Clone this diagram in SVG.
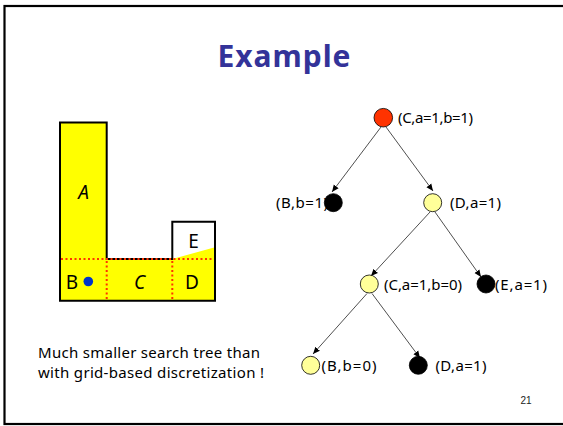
<svg xmlns="http://www.w3.org/2000/svg" width="563" height="426" viewBox="0 0 563 426">
<defs>
<marker id="ah" markerWidth="8" markerHeight="8" refX="7" refY="4" orient="auto" markerUnits="userSpaceOnUse">
<path d="M0,1 L7,4 L0,7 z" fill="#000"/>
</marker>
<style>
.lbl{font-family:"Noto Sans","Liberation Sans",sans-serif;font-size:15px;fill:#000}
.reg{font-family:"Noto Sans","Liberation Sans",sans-serif;font-size:19px;fill:#000}
.edge{stroke:#222;stroke-width:0.8;fill:none;marker-end:url(#ah)}
.dot{stroke:#ff3300;stroke-width:2;stroke-dasharray:2 2.5;fill:none}
.n{stroke:#000;stroke-width:0.8}
</style>
</defs>
<rect width="563" height="426" fill="#fff"/>
<rect x="4.5" y="6" width="600" height="418" fill="none" stroke="#000" stroke-width="2.2"/>
<text x="284" y="67" text-anchor="middle" font-family="'Noto Sans','Liberation Sans',sans-serif" font-weight="bold" font-size="30" fill="#333399" textLength="133">Example</text>

<g id="map">
<path d="M60,122.5 H106.7 V259 H172.3 V221.7 H215 V300.7 H60 Z" fill="#ffff00"/>
<path d="M172.3,259 L215,247.3 V221.7 H172.3 Z" fill="#fff"/>
<path d="M60,122.5 H106.7 V259 H172.3 V221.7 H215 V300.7 H60 Z" fill="none" stroke="#000" stroke-width="2"/>
<path class="dot" d="M61,259 H214 M106.7,261 V300 M172.3,261 V300"/>
<text class="reg" x="83.5" y="198.5" text-anchor="middle" font-style="italic">A</text>
<text class="reg" x="72" y="288.5" text-anchor="middle">B</text>
<circle cx="88.3" cy="281.5" r="4.8" fill="#0033cc"/>
<text class="reg" x="139.5" y="288.5" text-anchor="middle" font-style="italic">C</text>
<text class="reg" x="192" y="288.5" text-anchor="middle">D</text>
<text class="reg" x="193.5" y="248" text-anchor="middle">E</text>
</g>

<g id="connectors">
<line class="edge" x1="381" y1="127" x2="332" y2="192"/>
<line class="edge" x1="386" y1="127" x2="433" y2="191"/>
<line class="edge" x1="430" y1="212" x2="371" y2="276"/>
<line class="edge" x1="435" y1="212" x2="481" y2="277"/>
<line class="edge" x1="367" y1="293.5" x2="313" y2="354"/>
<line class="edge" x1="372" y1="293.5" x2="420" y2="358"/>
</g>

<g id="n_root">
<circle class="n" cx="383.3" cy="117.7" r="9.3" fill="#ff3300"/>
<text class="lbl" x="398" y="123" textLength="75">(C,a=1,b=1)</text>
</g>
<g id="n_B1">
<text class="lbl" x="276" y="208" textLength="52">(B,b=1)</text>
<circle class="n" cx="333.3" cy="202.7" r="9" fill="#000"/>
</g>
<g id="n_D1">
<circle class="n" cx="432.7" cy="202.7" r="9" fill="#ffff99"/>
<text class="lbl" x="450" y="208" textLength="51">(D,a=1)</text>
</g>
<g id="n_C0">
<circle class="n" cx="369.3" cy="284" r="9" fill="#ffff99"/>
<text class="lbl" x="384" y="289.5" textLength="78">(C,a=1,b=0)</text>
</g>
<g id="n_E1">
<circle class="n" cx="486" cy="284" r="9" fill="#000"/>
<text class="lbl" x="495" y="289.5" textLength="52">(E,a=1)</text>
</g>
<g id="n_B0">
<circle class="n" cx="310.7" cy="365.3" r="9" fill="#ffff99"/>
<text class="lbl" x="321.5" y="370.5" textLength="55">(B,b=0)</text>
</g>
<g id="n_D2">
<circle class="n" cx="418.3" cy="365.3" r="9" fill="#000"/>
<text class="lbl" x="435.5" y="370.5" textLength="51">(D,a=1)</text>
</g>

<text class="lbl" x="38" y="358" textLength="222">Much smaller search tree than</text>
<text class="lbl" x="38" y="378" textLength="226">with grid-based discretization !</text>
<text x="526" y="404" text-anchor="middle" font-family="'Liberation Sans',sans-serif" font-size="10" fill="#222">21</text>
</svg>
